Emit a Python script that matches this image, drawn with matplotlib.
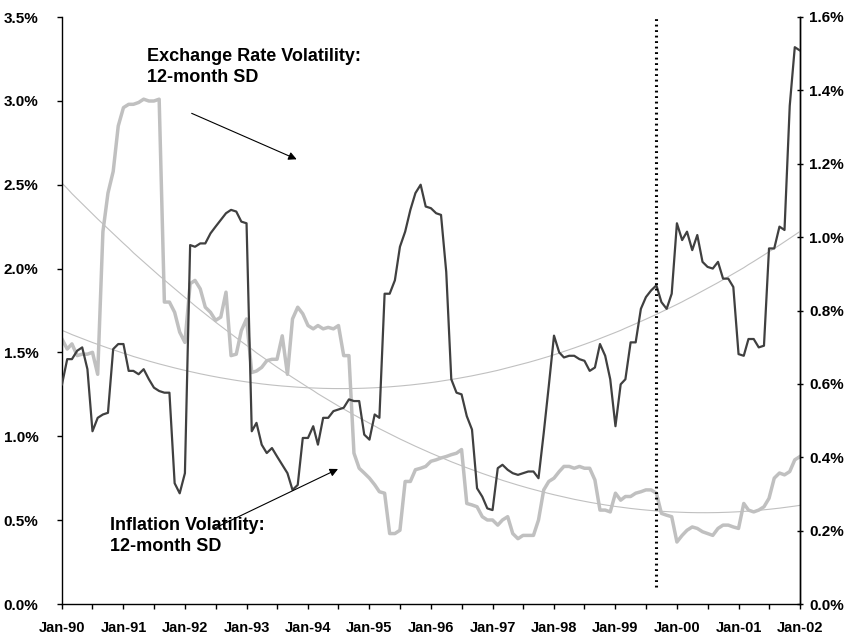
import numpy as np
import pandas as pd
import matplotlib
matplotlib.use("Agg")
import matplotlib.pyplot as plt
import matplotlib.dates as mdates
from matplotlib.ticker import FuncFormatter, MultipleLocator

plt.rcParams["font.family"] = ["Liberation Sans", "DejaVu Sans"]
plt.rcParams["font.weight"] = "bold"

# monthly observations, Jan-90 .. Jan-02
dates = pd.date_range("1990-01-01", periods=145, freq="MS")

# dark line, left axis (%)
infl_sd = [
    1.31, 1.46, 1.46, 1.51, 1.53, 1.40, 1.03, 1.11, 1.13, 1.14, 1.52, 1.55,
    1.55, 1.39, 1.39, 1.37, 1.40, 1.34, 1.29, 1.27, 1.26, 1.26, 0.72, 0.66,
    0.78, 2.14, 2.13, 2.15, 2.15, 2.21, 2.25, 2.29, 2.33, 2.35, 2.34, 2.28,
    2.27, 1.03, 1.08, 0.95, 0.90, 0.93, 0.88, 0.83, 0.78, 0.68, 0.71, 0.99,
    0.99, 1.06, 0.95, 1.11, 1.11, 1.15, 1.16, 1.17, 1.22, 1.21, 1.21, 1.01,
    0.98, 1.13, 1.11, 1.85, 1.85, 1.93, 2.13, 2.22, 2.35, 2.45, 2.50, 2.37,
    2.36, 2.33, 2.32, 1.98, 1.34, 1.26, 1.25, 1.12, 1.04, 0.69, 0.64, 0.57,
    0.56, 0.81, 0.83, 0.80, 0.78, 0.77, 0.78, 0.79, 0.79, 0.75, 1.02, 1.30,
    1.60, 1.50, 1.47, 1.48, 1.48, 1.46, 1.45, 1.39, 1.41, 1.55, 1.48, 1.34,
    1.06, 1.31, 1.34, 1.56, 1.56, 1.76, 1.83, 1.87, 1.90, 1.80, 1.76, 1.85,
    2.27, 2.17, 2.22, 2.11, 2.20, 2.04, 2.01, 2.00, 2.04, 1.94, 1.94, 1.89,
    1.49, 1.48, 1.58, 1.58, 1.53, 1.54, 2.12, 2.12, 2.25, 2.23, 2.97, 3.32,
    3.30,
]

# light line, right axis (%)
fx_sd = [
    0.722, 0.695, 0.709, 0.677, 0.681, 0.681, 0.686, 0.626, 1.015, 1.120, 1.179, 1.303,
    1.353, 1.362, 1.362, 1.367, 1.376, 1.371, 1.371, 1.376, 0.823, 0.823, 0.795, 0.741,
    0.713, 0.873, 0.882, 0.859, 0.809, 0.795, 0.773, 0.782, 0.850, 0.677, 0.681, 0.745,
    0.777, 0.631, 0.635, 0.645, 0.663, 0.667, 0.667, 0.731, 0.626, 0.777, 0.809, 0.791,
    0.759, 0.750, 0.759, 0.750, 0.754, 0.750, 0.759, 0.677, 0.677, 0.411, 0.370, 0.357,
    0.343, 0.325, 0.306, 0.302, 0.192, 0.192, 0.201, 0.334, 0.334, 0.366, 0.370, 0.375,
    0.389, 0.393, 0.398, 0.402, 0.407, 0.411, 0.421, 0.274, 0.270, 0.265, 0.238, 0.229,
    0.229, 0.215, 0.229, 0.238, 0.192, 0.178, 0.187, 0.187, 0.187, 0.229, 0.311, 0.334,
    0.343, 0.361, 0.375, 0.375, 0.370, 0.375, 0.370, 0.370, 0.338, 0.256, 0.256, 0.251,
    0.302, 0.283, 0.293, 0.293, 0.302, 0.306, 0.311, 0.311, 0.302, 0.247, 0.242, 0.238,
    0.169, 0.187, 0.201, 0.210, 0.206, 0.197, 0.192, 0.187, 0.206, 0.215, 0.215, 0.210,
    0.206, 0.274, 0.256, 0.251, 0.256, 0.265, 0.288, 0.343, 0.357, 0.352, 0.361, 0.393,
    0.402,
]

marker_date = pd.Timestamp("1999-09-01")

DARK = "#404040"
LIGHT = "#c0c0c0"

fig = plt.figure(figsize=(8.59, 6.38), dpi=100)
ax = fig.add_axes([62 / 859, 34 / 638, 738 / 859, 587 / 638])
ax2 = ax.twinx()

# quadratic trends (as in the spreadsheet's polynomial trendline)
t = np.arange(len(dates))
ax.plot(dates, np.polyval(np.polyfit(t, infl_sd, 2), t), color=LIGHT, lw=0.8, zorder=1)
ax2.plot(dates, np.polyval(np.polyfit(t, fx_sd, 2), t), color=LIGHT, lw=0.8, zorder=1)

ax2.plot(dates, fx_sd, color=LIGHT, lw=2.5, solid_joinstyle="round", zorder=2)
ax.plot(dates, infl_sd, color=DARK, lw=1.6, solid_joinstyle="round", zorder=3)
ax.set_zorder(ax2.get_zorder() + 1)
ax.patch.set_visible(False)

ax.plot([marker_date, marker_date], [0.1, 3.5], color="black", lw=2.2,
        linestyle=(0, (0.6, 1.2)), zorder=4, clip_on=False)

ax.set_xlim(dates[0], dates[-1])
ax.set_ylim(0, 3.5)
ax2.set_ylim(0, 1.6)

ax.xaxis.set_major_locator(mdates.MonthLocator(bymonth=1))
ax.xaxis.set_minor_locator(mdates.MonthLocator(bymonth=7))
ax.xaxis.set_major_formatter(mdates.DateFormatter("%b-%y"))
ax.yaxis.set_major_locator(MultipleLocator(0.5))
ax2.yaxis.set_major_locator(MultipleLocator(0.2))
pct = FuncFormatter(lambda v, p: f"{v:.1f}%")
ax.yaxis.set_major_formatter(pct)
ax2.yaxis.set_major_formatter(pct)

for a in (ax, ax2):
    a.spines["top"].set_visible(False)
    for s in a.spines.values():
        s.set_linewidth(1.0)
ax2.spines["left"].set_visible(False)
ax2.spines["bottom"].set_visible(False)

ax.tick_params(axis="x", which="both", direction="out", length=3.6, width=1, pad=9, labelsize=10.5)
ax.tick_params(axis="y", direction="out", length=3.6, width=1, pad=13.5, labelsize=11)
ax2.tick_params(axis="y", direction="inout", length=5, width=1, pad=4, labelsize=11)
for lab in ax.get_xticklabels() + ax.get_yticklabels() + ax2.get_yticklabels():
    lab.set_fontweight("bold")

ax.text(0.115, 0.947, "Exchange Rate Volatility:\n12-month SD", transform=ax.transAxes,
        ha="left", va="top", fontsize=13, fontweight="bold", linespacing=1.3)
ax.annotate("", xy=(0.318, 0.7576), xytext=(0.1757, 0.8359),
            xycoords="axes fraction", textcoords="axes fraction",
            arrowprops=dict(arrowstyle="-|>", color="black", lw=0.8,
                            mutation_scale=12, shrinkA=0, shrinkB=0))

ax.text(0.065, 0.148, "Inflation Volatility:\n12-month SD", transform=ax.transAxes,
        ha="left", va="top", fontsize=13, fontweight="bold", linespacing=1.3, zorder=6)
ax.annotate("", xy=(0.374, 0.230), xytext=(0.2073, 0.1295),
            xycoords="axes fraction", textcoords="axes fraction",
            arrowprops=dict(arrowstyle="-|>", color="black", lw=0.8,
                            mutation_scale=12, shrinkA=0, shrinkB=0))

fig.savefig("out.png", dpi=100)
